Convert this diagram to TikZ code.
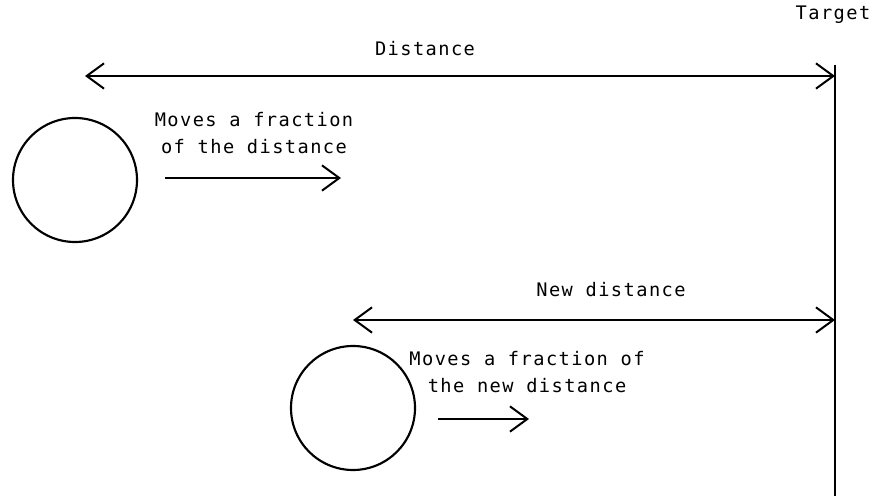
\documentclass[tikz,border=0pt]{standalone}
\usepackage{fontspec}
\setmonofont[LetterSpace=7.7]{DejaVu Sans Mono}
\usetikzlibrary{arrows.meta}
\begin{document}
\begin{tikzpicture}[
		x=0.75pt, y=-0.75pt,
		ball/.style = {circle, draw, line width=1.6pt, minimum size=93pt, inner sep=0pt},
		lbl/.style = {font=\ttfamily\fontsize{14}{20.25}\selectfont, align=center, inner sep=0pt},
		r/.style = {-{Straight Barb[length=13pt, width=19pt, line width=1.5pt]}, line width=1.5pt},
		rr/.style = {{Straight Barb[length=13pt, width=19pt, line width=1.5pt]}-{Straight Barb[length=13pt, width=19pt, line width=1.5pt]}, line width=1.5pt},
		]
		\useasboundingbox (0,0) rectangle (875,502);
		
		%Nodes
		\node[lbl]	(target)	at	(833, 15)	{Target};
		\node[lbl]	(dist)		at	(425, 49)	{Distance};
		\node[lbl]	(newdist)	at	(611, 290)	{New distance};
		\node[lbl]	(move1)		at	(254, 133)	{Moves a fraction\\of the distance};
		\node[lbl]	(move2)		at	(527, 372)	{Moves a fraction of\\the new distance};
		\node[ball]	(ball1)		at	(75, 180)	{};
		\node[ball]	(ball2)		at	(353, 408)	{};
		
		\coordinate	(ttop)	at	(835, 65);
		\coordinate	(tbot)	at	(835, 496);
		\coordinate	(d1)	at	(85, 76);
		\coordinate	(d2)	at	(835, 76);
		\coordinate	(n1)	at	(353, 320);
		\coordinate	(n2)	at	(835, 320);
		\coordinate	(m1a)	at	(165, 178);
		\coordinate	(m1b)	at	(341, 178);
		\coordinate	(m2a)	at	(438, 419);
		\coordinate	(m2b)	at	(529, 419);
		
		%Lines
		\draw[line width=1.5pt]	(ttop)	--	(tbot);
		\draw[rr]	(d1)	--	(d2);
		\draw[rr]	(n1)	--	(n2);
		\draw[r]	(m1a)	--	(m1b);
		\draw[r]	(m2a)	--	(m2b);
	\end{tikzpicture}
\end{document}
